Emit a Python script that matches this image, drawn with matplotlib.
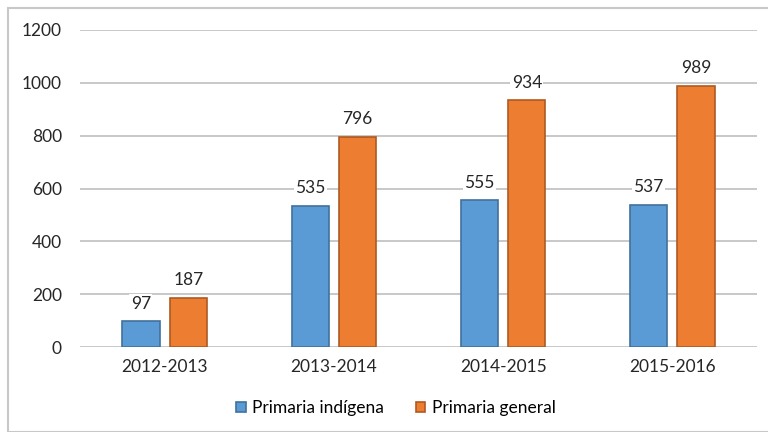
import numpy as np
import matplotlib.pyplot as plt
from matplotlib.patches import Rectangle

# Daten
ciclos = ['2012-2013', '2013-2014', '2014-2015', '2015-2016']
indigena = [97, 535, 555, 537]
general = [187, 796, 934, 989]

plt.rcParams['font.family'] = ['Lato', 'DejaVu Sans']

fig = plt.figure(figsize=(7.68, 4.32), dpi=100)
ax = fig.add_axes([80 / 768, 1 - 347 / 432, 677 / 768, 317 / 432])

# Rahmen um die ganze Grafik
fig.patches.append(Rectangle((8 / 768, 0), 1, 1 - 8 / 432, transform=fig.transFigure,
                             fill=False, edgecolor='#c8c8c8', linewidth=1.5))

x = np.arange(len(ciclos))
w = 0.22
b1 = ax.bar(x - 0.14, indigena, w, color='#5b9bd5', edgecolor='#41719c',
            linewidth=1.2, label='Primaria indígena', zorder=3)
b2 = ax.bar(x + 0.14, general, w, color='#ed7d31', edgecolor='#ae5a21',
            linewidth=1.2, label='Primaria general', zorder=3)

for bars in (b1, b2):
    for r in bars:
        ax.annotate(str(int(r.get_height())), (r.get_x() + r.get_width() / 2, r.get_height()),
                    xytext=(0, 7), textcoords='offset points', ha='center', va='bottom',
                    fontsize=12.5, color='#262626', zorder=4,
                    bbox=dict(facecolor='white', edgecolor='none', pad=1))

ax.set_xlim(-0.5, 3.5)
ax.set_ylim(0, 1200)
ax.set_yticks(range(0, 1201, 200))
ax.set_xticks(x)
ax.set_xticklabels(ciclos)
ax.tick_params(length=0, labelsize=12.5, labelcolor='#262626')
ax.tick_params(axis='y', pad=13)
ax.tick_params(axis='x', pad=9)
ax.grid(axis='y', color='#bfbfbf', linewidth=1.2, zorder=0)
for s in ax.spines.values():
    s.set_visible(False)

fig.legend(loc='center', bbox_to_anchor=(396 / 768, 1 - 408 / 432), ncol=2, frameon=False,
           fontsize=12.5, handlelength=0.55, handleheight=0.55, columnspacing=1.8,
           handletextpad=0.4)

plt.savefig('out.png', dpi=100)
